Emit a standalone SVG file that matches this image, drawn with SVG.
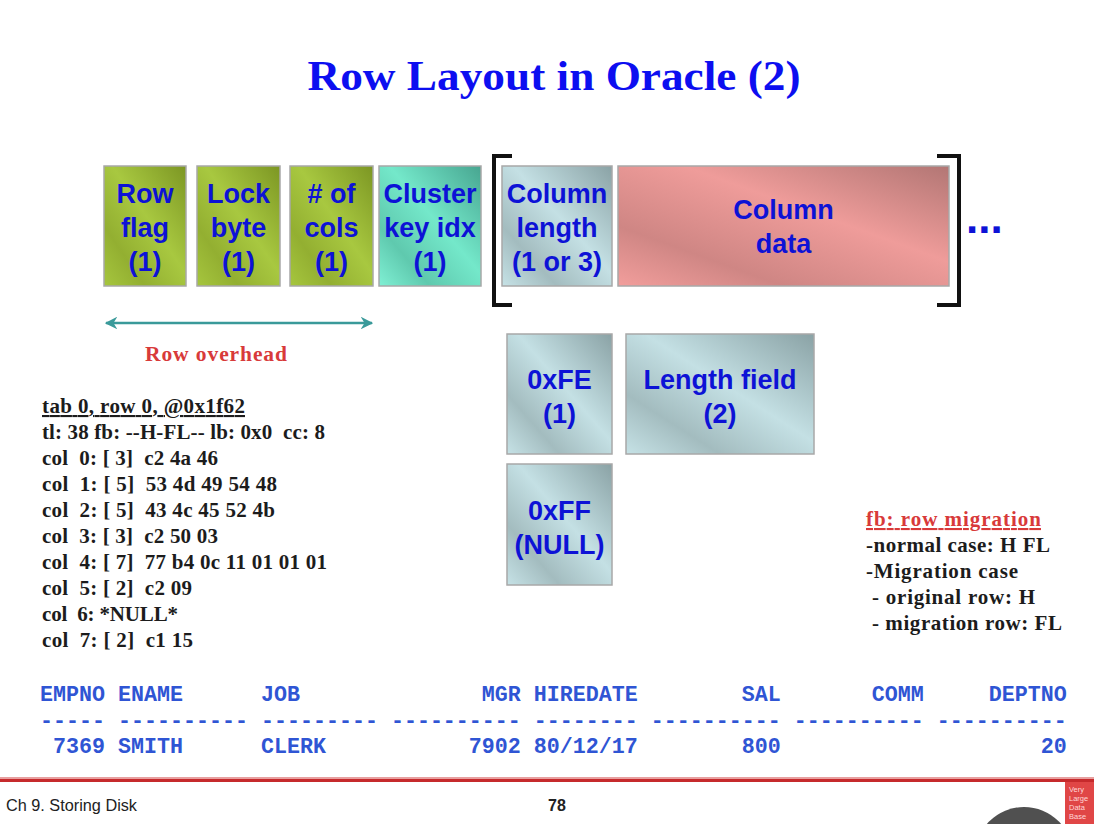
<svg xmlns="http://www.w3.org/2000/svg" width="1094" height="824" viewBox="0 0 1094 824">
<style>
.box{stroke:#a8a8a8;stroke-width:1.5}
.bt{font-family:"Liberation Sans",Arial,sans-serif;font-weight:bold;font-size:27px;fill:#0d12d6;text-anchor:middle}
.code{font-family:"Liberation Serif","Times New Roman",serif;font-weight:bold;font-size:21px;fill:#1c1c1c;white-space:pre}
.tbl{font-family:"Liberation Mono","Courier New",monospace;font-weight:bold;font-size:21.67px;fill:#2f55d4;white-space:pre}
.red{fill:#d83a3a}
</style>
<defs>
<linearGradient id="gGreen" x1="1" y1="0" x2="0" y2="1">
<stop offset="0" stop-color="#7c9623"/><stop offset="0.45" stop-color="#a8c840"/><stop offset="0.75" stop-color="#93af31"/><stop offset="1" stop-color="#a6c63e"/>
</linearGradient>
<linearGradient id="gTeal" x1="1" y1="0" x2="0" y2="1">
<stop offset="0" stop-color="#47a590"/><stop offset="0.45" stop-color="#74e8ca"/><stop offset="0.75" stop-color="#5fc9ae"/><stop offset="1" stop-color="#80f0d4"/>
</linearGradient>
<linearGradient id="gGray" x1="1" y1="0" x2="0" y2="1">
<stop offset="0" stop-color="#8aa2a5"/><stop offset="0.45" stop-color="#c4e0e4"/><stop offset="0.75" stop-color="#a3bcbf"/><stop offset="1" stop-color="#c6e2e6"/>
</linearGradient>
<linearGradient id="gPink" x1="1" y1="0" x2="0" y2="1">
<stop offset="0" stop-color="#b27674"/><stop offset="0.4" stop-color="#ef9c9a"/><stop offset="0.75" stop-color="#cf8684"/><stop offset="1" stop-color="#f29e9c"/>
</linearGradient>
<marker id="ah" viewBox="0 0 10 10" refX="9" refY="5" markerWidth="5" markerHeight="5" orient="auto-start-reverse">
<path d="M0,0 L10,5 L0,10 L3,5 Z" fill="#3a9a9a"/>
</marker>
</defs>
<rect width="1094" height="824" fill="#ffffff"/>

<text x="554" y="90" text-anchor="middle" textLength="493" lengthAdjust="spacingAndGlyphs" style="font-family:'Liberation Serif','Times New Roman',serif;font-weight:bold;font-size:42px;fill:#0c0ef0">Row Layout in Oracle (2)</text>

<g id="row-flag"><rect class="box" x="104" y="166" width="82" height="120" fill="url(#gGreen)"/>
<text class="bt" x="145" y="203">Row</text><text class="bt" x="145" y="237">flag</text><text class="bt" x="145" y="271">(1)</text></g>
<g id="lock-byte"><rect class="box" x="197" y="166" width="83" height="120" fill="url(#gGreen)"/>
<text class="bt" x="238.5" y="203">Lock</text><text class="bt" x="238.5" y="237">byte</text><text class="bt" x="238.5" y="271">(1)</text></g>
<g id="num-cols"><rect class="box" x="290" y="166" width="83" height="120" fill="url(#gGreen)"/>
<text class="bt" x="331.5" y="203"># of</text><text class="bt" x="331.5" y="237">cols</text><text class="bt" x="331.5" y="271">(1)</text></g>
<g id="cluster-key"><rect class="box" x="379" y="166" width="102" height="120" fill="url(#gTeal)"/>
<text class="bt" x="430" y="203">Cluster</text><text class="bt" x="430" y="237">key idx</text><text class="bt" x="430" y="271">(1)</text></g>
<g id="column-length"><rect class="box" x="502" y="166" width="110" height="120" fill="url(#gGray)"/>
<text class="bt" x="557" y="203">Column</text><text class="bt" x="557" y="237">length</text><text class="bt" x="557" y="271">(1 or 3)</text></g>
<g id="column-data"><rect class="box" x="618" y="166" width="331" height="120" fill="url(#gPink)"/>
<text class="bt" x="783.5" y="219">Column</text><text class="bt" x="783.5" y="253">data</text></g>
<g id="bracket">
<path d="M512,156 H494 V305 H512" fill="none" stroke="#111" stroke-width="4"/>
<path d="M937,156 H959 V305 H937" fill="none" stroke="#111" stroke-width="4"/>
<text x="966" y="233" style="font-family:'Liberation Sans',Arial,sans-serif;font-weight:bold;font-size:44px;fill:#0d12d6">...</text>
</g>
<g id="oxfe"><rect class="box" x="507" y="334" width="105" height="120" fill="url(#gGray)"/>
<text class="bt" x="559.5" y="389">0xFE</text><text class="bt" x="559.5" y="423">(1)</text></g>
<g id="length-field"><rect class="box" x="626" y="334" width="188" height="120" fill="url(#gGray)"/>
<text class="bt" x="720" y="389">Length field</text><text class="bt" x="720" y="423">(2)</text></g>
<g id="oxff"><rect class="box" x="507" y="464" width="105" height="121" fill="url(#gGray)"/>
<text class="bt" x="559.5" y="520">0xFF</text><text class="bt" x="559.5" y="554">(NULL)</text></g>

<g id="connectors">
<line x1="106" y1="323" x2="372" y2="323" stroke="#3a9a9a" stroke-width="2.5" marker-start="url(#ah)" marker-end="url(#ah)"/>
</g>
<g id="row-overhead-label">
<text x="145" y="361" textLength="142" style="font-family:'Liberation Serif','Times New Roman',serif;font-weight:bold;font-size:21.5px;fill:#d83a3a">Row overhead</text>
</g>

<g id="dump">
<text class="code" xml:space="preserve" x="42" y="413" textLength="203" text-decoration="underline">tab 0, row 0, @0x1f62</text>
<text class="code" xml:space="preserve" x="42" y="439" textLength="283">tl: 38 fb: --H-FL-- lb: 0x0  cc: 8</text>
<text class="code" xml:space="preserve" x="42" y="465" textLength="176">col  0: [ 3]  c2 4a 46</text>
<text class="code" xml:space="preserve" x="42" y="491" textLength="235">col  1: [ 5]  53 4d 49 54 48</text>
<text class="code" xml:space="preserve" x="42" y="517" textLength="233">col  2: [ 5]  43 4c 45 52 4b</text>
<text class="code" xml:space="preserve" x="42" y="543" textLength="176">col  3: [ 3]  c2 50 03</text>
<text class="code" xml:space="preserve" x="42" y="569" textLength="285">col  4: [ 7]  77 b4 0c 11 01 01 01</text>
<text class="code" xml:space="preserve" x="42" y="595" textLength="150">col  5: [ 2]  c2 09</text>
<text class="code" xml:space="preserve" x="42" y="621" textLength="136">col  6: *NULL*</text>
<text class="code" xml:space="preserve" x="42" y="647" textLength="151">col  7: [ 2]  c1 15</text>
</g>

<g id="fb-note">
<text class="code red" xml:space="preserve" x="866" y="526" textLength="175" text-decoration="underline">fb: row migration</text>
<text class="code" xml:space="preserve" x="866" y="552" textLength="184">-normal case: H FL</text>
<text class="code" xml:space="preserve" x="866" y="578" textLength="152">-Migration case</text>
<text class="code" xml:space="preserve" x="872" y="604" textLength="163">- original row: H</text>
<text class="code" xml:space="preserve" x="872" y="630" textLength="190">- migration row: FL</text>
</g>

<g id="table">
<text class="tbl" xml:space="preserve" x="40" y="701">EMPNO ENAME      JOB              MGR HIREDATE        SAL       COMM     DEPTNO</text>
<text class="tbl" xml:space="preserve" x="40" y="727">----- ---------- --------- ---------- -------- ---------- ---------- ----------</text>
<text class="tbl" xml:space="preserve" x="40" y="753"> 7369 SMITH      CLERK           7902 80/12/17        800                    20</text>
</g>

<g id="footer">
<rect x="0" y="777" width="1094" height="2" fill="#e8a0a0"/>
<rect x="0" y="779" width="1094" height="3" fill="#c62a2c"/>
<text x="6" y="811" textLength="131" lengthAdjust="spacingAndGlyphs" style="font-family:'Liberation Sans',Arial,sans-serif;font-size:16px;fill:#222">Ch 9. Storing Disk</text>
<text x="557" y="811" text-anchor="middle" style="font-family:'Liberation Sans',Arial,sans-serif;font-weight:bold;font-size:16px;fill:#222">78</text>
<circle cx="1024" cy="856" r="49" fill="#505050"/>
<rect x="1065" y="782" width="29" height="42" fill="#e04646"/>
<g style="font-family:'Liberation Sans',Arial,sans-serif;font-size:7.5px;fill:#ffd8d8">
<text x="1069" y="792">Very</text><text x="1069" y="801">Large</text><text x="1069" y="810">Data</text><text x="1069" y="819">Base</text>
</g>
</g>
</svg>
